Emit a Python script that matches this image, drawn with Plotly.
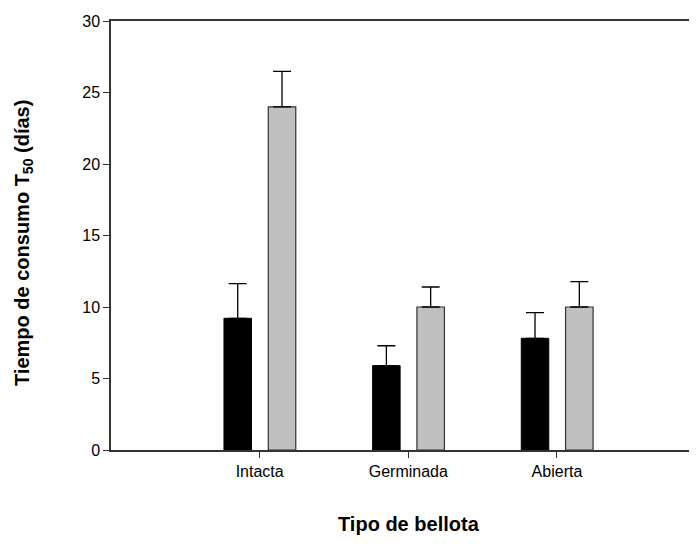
import plotly.graph_objects as go

categories = ["Intacta", "Germinada", "Abierta"]
positions = [1, 2, 3]
series_a = [9.21, 5.9, 7.81]
series_a_err = [2.42, 1.39, 1.79]
series_b = [24.0, 10.0, 10.0]
series_b_err = [2.48, 1.4, 1.77]
y_ticks = [0, 5, 10, 15, 20, 25, 30]

FONT = "Liberation Sans, Arial, sans-serif"

# page body has an 8px margin; the figure sits at (8, 8)
PLOT_L, PLOT_T, PLOT_B = 111, 21, 450
FIG_W, FIG_H = 681, 528
plot_w = 8 + FIG_W - PLOT_L
plot_h = PLOT_B - PLOT_T

fig = go.Figure()
fig.add_trace(go.Bar(
    x=positions, y=series_a, width=0.185, offset=-0.240,
    marker=dict(color="black", line=dict(color="black", width=1)),
    error_y=dict(type="data", symmetric=False, array=series_a_err,
                 arrayminus=[0] * len(series_a), color="black", thickness=1.3, width=9),
    showlegend=False,
))
fig.add_trace(go.Bar(
    x=positions, y=series_b, width=0.185, offset=0.058,
    marker=dict(color="#c0c0c0", line=dict(color="#333333", width=1.2)),
    error_y=dict(type="data", symmetric=False, array=series_b_err,
                 arrayminus=[0] * len(series_b), color="black", thickness=1.3, width=9),
    showlegend=False,
))

fig.update_layout(
    width=FIG_W, height=FIG_H,
    margin=dict(l=PLOT_L - 8, r=0, t=PLOT_T - 8, b=8 + FIG_H - PLOT_B),
    plot_bgcolor="white", paper_bgcolor="white",
    font=dict(family=FONT, size=16, color="black"),
    xaxis=dict(
        range=[0, plot_w / 148.65], tickvals=positions, ticktext=categories,
        showline=True, linecolor="#333333", linewidth=1.5, mirror=True,
        ticks="outside", ticklen=6, tickcolor="#333333", tickwidth=1.3,
        showgrid=False, zeroline=False, tickfont=dict(size=16),
    ),
    yaxis=dict(
        range=[0, 30], tickvals=y_ticks,
        showline=True, linecolor="#333333", linewidth=1.5,
        ticks="outside", ticklen=6, tickcolor="#333333", tickwidth=1.3,
        showgrid=False, zeroline=False, tickfont=dict(size=16),
    ),
    annotations=[
        dict(text="<b>Tipo de bellota</b>", xref="paper", yref="paper",
             x=(409 - PLOT_L) / plot_w, y=-(524 - PLOT_B) / plot_h,
             xanchor="center", yanchor="middle",
             showarrow=False, font=dict(size=20, family=FONT)),
        dict(text="<b>Tiempo de consumo T<sub>50</sub> (días)</b>", xref="paper", yref="paper",
             x=(23 - PLOT_L) / plot_w, y=(PLOT_B - 243) / plot_h,
             xanchor="center", yanchor="middle",
             textangle=-90, showarrow=False, font=dict(size=20, family=FONT)),
    ],
)

fig.write_html("out.html")
